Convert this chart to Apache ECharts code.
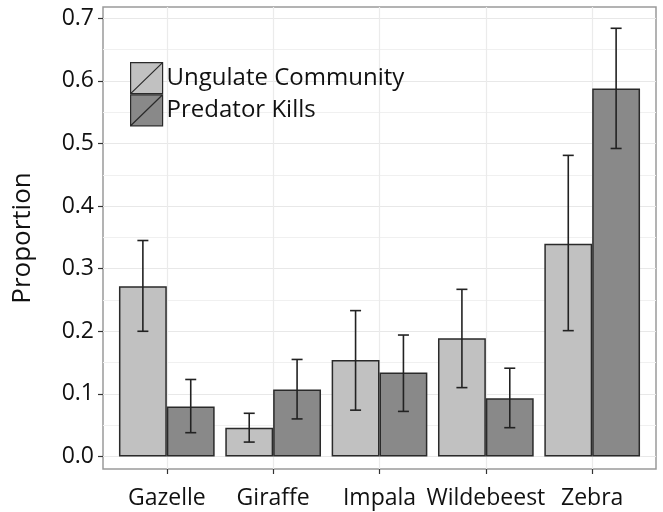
<!DOCTYPE html>
<html>
<head>
<meta charset="utf-8">
<script src="https://cdn.jsdelivr.net/npm/echarts@6/dist/echarts.min.js"></script>
<style>
  html, body { margin: 0; padding: 0; background: #fff; }
  #chart { width: 663px; height: 512px; }
</style>
</head>
<body>
<div id="chart"></div>
<script>
var species = ["Gazelle", "Giraffe", "Impala", "Wildebeest", "Zebra"];
var seriesNames = ["Ungulate Community", "Predator Kills"];
var communityMean = [0.272, 0.046, 0.154, 0.189, 0.340];
var communityLow = [0.200, 0.023, 0.074, 0.110, 0.201];
var communityHigh = [0.345, 0.069, 0.233, 0.267, 0.481];
var killsMean = [0.080, 0.107, 0.134, 0.093, 0.588];
var killsLow = [0.038, 0.060, 0.072, 0.046, 0.492];
var killsHigh = [0.123, 0.155, 0.194, 0.141, 0.684];
var yTicks = [0, 0.1, 0.2, 0.3, 0.4, 0.5, 0.6, 0.7];
var yGrid = [0, 0.05, 0.1, 0.15, 0.2, 0.25, 0.3, 0.35, 0.4, 0.45, 0.5, 0.55, 0.6, 0.65, 0.7];

var fontFamily = "'Open Sans', 'Noto Sans', sans-serif";
var dodge = 0.225; // half of a dodged bar (0.9 / 4)

function barData(vals) {
  return vals.map(function (v, i) { return [i, v]; });
}
function errData(lo, hi, shift) {
  return lo.map(function (v, i) { return [i + shift, v, hi[i]]; });
}

function renderErr(params, api) {
  var x = api.value(0);
  var top = api.coord([x, api.value(2)]);
  var bot = api.coord([x, api.value(1)]);
  var half = 5.5;
  var st = { stroke: "#222", lineWidth: 1.6 };
  return {
    type: "group",
    children: [
      { type: "line", shape: { x1: top[0], y1: top[1], x2: bot[0], y2: bot[1] }, style: st },
      { type: "line", shape: { x1: top[0] - half, y1: top[1], x2: top[0] + half, y2: top[1] }, style: st },
      { type: "line", shape: { x1: bot[0] - half, y1: bot[1], x2: bot[0] + half, y2: bot[1] }, style: st }
    ]
  };
}

var chart = echarts.init(document.getElementById("chart"));
chart.setOption({
  animation: false,
  backgroundColor: "#fff",
  textStyle: { fontFamily: fontFamily },
  grid: {
    left: 103, right: 7, top: 7, bottom: 43,
    show: true, borderColor: "#9a9a9a", borderWidth: 1.5,
    containLabel: false
  },
  legend: {
    orient: "vertical",
    left: 130, top: 62,
    itemWidth: 32, itemHeight: 31, itemGap: 0,
    padding: 0,
    data: seriesNames,
    icon: "path://M0,0 L32,0 L32,31 L0,31 Z M0,31 L32,0",
    itemStyle: { borderWidth: 1.2 },
    textStyle: { fontSize: 24, color: "#111", fontFamily: fontFamily, padding: [0, 0, 0, -1] }
  },
  xAxis: {
    type: "value",
    min: -0.6, max: 4.6,
    axisLine: { show: false, onZero: false },
    axisTick: { show: true, customValues: [0, 1, 2, 3, 4], length: 5, lineStyle: { color: "#333", width: 1.2 } },
    axisLabel: {
      customValues: [0, 1, 2, 3, 4],
      formatter: function (v) { return species[Math.round(v)]; },
      fontSize: 23, color: "#111", margin: 18, fontFamily: fontFamily
    },
    splitLine: { show: true, lineStyle: { color: "#ebebeb", width: 1.2 } }
  },
  yAxis: [
    {
      type: "value",
      min: -0.02, max: 0.718,
      name: "Proportion",
      nameLocation: "middle",
      nameGap: 67,
      nameTextStyle: { fontSize: 26, color: "#111", fontFamily: fontFamily },
      axisLine: { show: false, onZero: false },
      axisTick: { show: true, customValues: yTicks, length: 5, lineStyle: { color: "#333", width: 1.2 } },
      axisLabel: {
        customValues: yTicks,
        formatter: function (v) { return v.toFixed(1); },
        fontSize: 23, color: "#111", margin: 9, fontFamily: fontFamily
      },
      splitLine: { show: false }
    },
    {
      type: "value",
      min: -0.02, max: 0.718,
      axisLine: { show: false, onZero: false },
      axisTick: { show: false, customValues: yGrid },
      axisLabel: { show: false, customValues: yGrid },
      splitLine: { show: true, lineStyle: { color: ["#e8e8e8", "#f0f0f0"], width: 1.2 } }
    }
  ],
  series: [
    {
      name: seriesNames[0], type: "bar", yAxisIndex: 0,
      data: barData(communityMean),
      barWidth: "45%", barGap: "0%",
      itemStyle: { color: "#c1c1c1", borderColor: "#2a2a2a", borderWidth: 1.5 }
    },
    {
      name: seriesNames[1], type: "bar", yAxisIndex: 0,
      data: barData(killsMean),
      barWidth: "45%", barGap: "0%",
      itemStyle: { color: "#898989", borderColor: "#2a2a2a", borderWidth: 1.5 }
    },
    {
      type: "custom", yAxisIndex: 0, renderItem: renderErr,
      data: errData(communityLow, communityHigh, -dodge), z: 5
    },
    {
      type: "custom", yAxisIndex: 0, renderItem: renderErr,
      data: errData(killsLow, killsHigh, dodge), z: 5
    }
  ]
});
</script>
</body>
</html>
